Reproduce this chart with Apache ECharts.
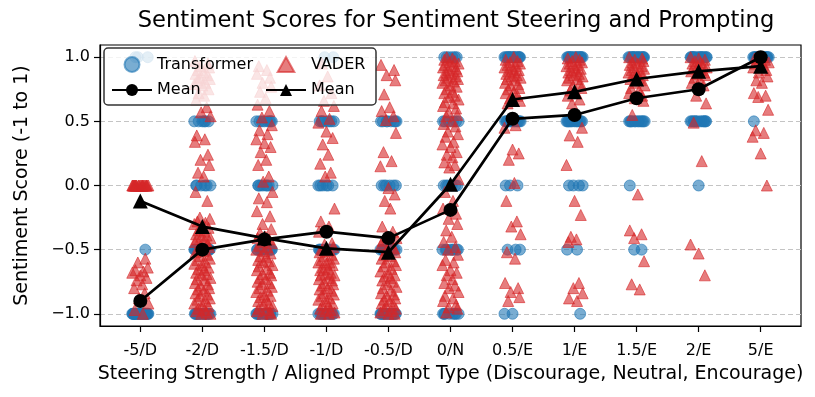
<!DOCTYPE html>
<html>
<head>
<meta charset="utf-8">
<script src="https://cdn.jsdelivr.net/npm/echarts@6/dist/echarts.min.js"></script>
<style>html,body{margin:0;padding:0;background:#fff;}#c{width:815px;height:397px;}</style>
</head>
<body>
<div id="c"></div>
<script>
// ---------------- DATA ----------------
const categories = ['-5/D', '-2/D', '-1.5/D', '-1/D', '-0.5/D', '0/N', '0.5/E', '1/E', '1.5/E', '2/E', '5/E'];
const yTicks = [-1, -0.5, 0, 0.5, 1];

// Transformer scores are discrete: [score, count] per category
const tf_m5D  = [[-1, 25], [-0.5, 1], [1, 3]];
const tf_m2D  = [[0.5, 6], [0, 6], [-0.5, 15], [-1, 15]];
const tf_m15D = [[0.5, 8], [0, 8], [-0.5, 10], [-1, 15]];
const tf_m1D  = [[1, 2], [0.5, 8], [0, 6], [-0.5, 12], [-1, 12]];
const tf_m05D = [[0.5, 8], [0, 6], [-0.5, 12], [-1, 15]];
const tf_0N   = [[1, 6], [0.5, 6], [0, 6], [-0.5, 8], [-1, 8]];
const tf_05E  = [[1, 15], [0.5, 12], [0, 3], [-0.5, 3], [-1, 2]];
const tf_1E   = [[1, 15], [0.5, 12], [0, 4], [-0.5, 2], [-1, 1]];
const tf_15E  = [[1, 15], [0.5, 12], [0, 1], [-0.5, 2]];
const tf_2E   = [[1, 15], [0.5, 12], [0, 1]];
const tf_5E   = [[1, 15], [0.5, 1]];
const transformerScores = [tf_m5D, tf_m2D, tf_m15D, tf_m1D, tf_m05D, tf_0N, tf_05E, tf_1E, tf_15E, tf_2E, tf_5E];

// VADER compound scores
const vd_m5D = [0, 0, 0, 0, 0, 0, 0, 0, 0, 0, 0, 0, 0, 0, 0, 0, 0, 0, 0, 0,
  -0.57, -0.6, -0.64, -0.66, -0.67, -0.68, -0.7, -0.72, -0.74, -0.77, -0.8, -0.84, -0.88, -0.92, -0.97, -1.0];
const vd_m2D = [0.97, 0.95, 0.93, 0.92, 0.9, 0.88, 0.87, 0.86, 0.84, 0.83, 0.82, 0.8, 0.79, 0.78, 0.75, 0.72, 0.7,
  0.67, 0.61, 0.57, 0.54, 0.39, 0.36, 0.34, 0.24, 0.2, 0.16, 0.1, 0.07, -0.05, -0.12, -0.25, -0.26, -0.28, -0.29,
  -0.3, -0.32, -0.33, -0.35, -0.36, -0.38, -0.39, -0.4, -0.41, -0.42, -0.43, -0.44, -0.46, -0.47, -0.48, -0.5,
  -0.51, -0.52, -0.54, -0.55, -0.57, -0.58, -0.6, -0.61, -0.62, -0.64, -0.65, -0.66, -0.68, -0.69, -0.7, -0.72,
  -0.73, -0.74, -0.76, -0.77, -0.78, -0.8, -0.81, -0.82, -0.84, -0.85, -0.86, -0.88, -0.89, -0.9, -0.92, -0.93,
  -0.94, -0.96, -0.97, -0.98, -0.99, -1.0, -1.0];
const vd_m15D = [0.93, 0.9, 0.87, 0.84, 0.8, 0.77, 0.73, 0.68, 0.63, 0.58, 0.53, 0.47, 0.43, 0.4, 0.36, 0.33, 0.3,
  0.26, 0.2, 0.16, 0.07, 0.03, -0.05, -0.1, -0.13, -0.2, -0.24, -0.3, -0.34, -0.37, -0.4, -0.41, -0.42, -0.44,
  -0.45, -0.47, -0.48, -0.5, -0.51, -0.53, -0.55, -0.56, -0.58, -0.59, -0.6, -0.62, -0.63, -0.65, -0.66, -0.68,
  -0.69, -0.7, -0.72, -0.73, -0.75, -0.76, -0.77, -0.79, -0.8, -0.82, -0.83, -0.85, -0.86, -0.87, -0.89, -0.9,
  -0.92, -0.93, -0.94, -0.96, -0.97, -0.98, -0.99, -1.0, -1.0];
const vd_m1D = [0.95, 0.85, 0.78, 0.72, 0.66, 0.62, 0.58, 0.52, 0.49, 0.42, 0.37, 0.32, 0.24, 0.17, 0.1, 0.07, -0.18,
  -0.28, -0.32, -0.36, -0.45, -0.46, -0.48, -0.5, -0.51, -0.52, -0.54, -0.55, -0.57, -0.58, -0.6, -0.6, -0.61,
  -0.62, -0.64, -0.65, -0.66, -0.68, -0.69, -0.7, -0.7, -0.72, -0.73, -0.74, -0.76, -0.77, -0.78, -0.8, -0.81,
  -0.82, -0.84, -0.85, -0.86, -0.88, -0.89, -0.9, -0.92, -0.93, -0.94, -0.96, -0.97, -0.98, -0.99, -1.0, -1.0];
const vd_m05D = [0.94, 0.9, 0.86, 0.82, 0.71, 0.61, 0.58, 0.54, 0.51, 0.41, 0.26, 0.19, 0.15, -0.02, -0.07, -0.12,
  -0.18, -0.32, -0.36, -0.4, -0.41, -0.43, -0.45, -0.46, -0.49, -0.5, -0.52, -0.54, -0.55, -0.57, -0.59, -0.6,
  -0.62, -0.63, -0.65, -0.67, -0.68, -0.7, -0.71, -0.72, -0.74, -0.75, -0.77, -0.79, -0.8, -0.82, -0.84, -0.85,
  -0.86, -0.88, -0.89, -0.9, -0.92, -0.93, -0.94, -0.96, -0.97, -0.98, -0.99, -1.0, -1.0];
const vd_0N = [1.0, 0.99, 0.98, 0.97, 0.96, 0.95, 0.94, 0.93, 0.92, 0.91, 0.9, 0.89, 0.88, 0.87, 0.86, 0.85, 0.84,
  0.83, 0.82, 0.81, 0.8, 0.78, 0.77, 0.75, 0.73, 0.72, 0.7, 0.69, 0.67, 0.65, 0.64, 0.62, 0.6, 0.57, 0.55, 0.54,
  0.5, 0.48, 0.46, 0.42, 0.4, 0.38, 0.34, 0.32, 0.3, 0.26, 0.24, 0.22, 0.18, 0.16, 0.14, 0.05, -0.05, -0.12, -0.18,
  -0.22, -0.26, -0.3, -0.35, -0.4, -0.44, -0.48, -0.5, -0.54, -0.58, -0.6, -0.62, -0.66, -0.68, -0.7, -0.73,
  -0.76, -0.78, -0.8, -0.83, -0.86, -0.88, -0.9, -0.93, -0.95, -0.96, -0.99];
const vd_05E = [1.0, 0.98, 0.97, 0.96, 0.95, 0.94, 0.93, 0.92, 0.91, 0.9, 0.89, 0.88, 0.87, 0.86, 0.85, 0.84, 0.83,
  0.82, 0.8, 0.79, 0.78, 0.76, 0.75, 0.73, 0.72, 0.7, 0.68, 0.66, 0.64, 0.47, 0.45, 0.28, 0.25, 0.2, 0.02, -0.12,
  -0.28, -0.32, -0.38, -0.52, -0.57, -0.76, -0.8, -0.83, -0.87, -0.9];
const vd_1E = [1.0, 0.99, 0.98, 0.97, 0.96, 0.95, 0.94, 0.93, 0.92, 0.91, 0.9, 0.89, 0.88, 0.87, 0.86, 0.85, 0.84,
  0.83, 0.82, 0.8, 0.78, 0.76, 0.74, 0.72, 0.7, 0.67, 0.64, 0.45, 0.39, 0.34, 0.16, -0.12, -0.23, -0.4, -0.42, -0.44,
  -0.76, -0.8, -0.84, -0.88, -0.9];
const vd_15E = [1.0, 0.99, 0.98, 0.97, 0.96, 0.95, 0.94, 0.93, 0.92, 0.91, 0.9, 0.89, 0.88, 0.87, 0.86, 0.85, 0.84,
  0.83, 0.82, 0.8, 0.78, 0.76, 0.74, 0.72, 0.7, 0.68, 0.66, 0.55, -0.07, -0.35, -0.38, -0.41, -0.59, -0.77, -0.81];
const vd_2E = [1.0, 0.99, 0.98, 0.97, 0.96, 0.95, 0.94, 0.93, 0.92, 0.91, 0.9, 0.89, 0.88, 0.87, 0.86, 0.84, 0.82,
  0.8, 0.78, 0.7, 0.64, 0.49, 0.19, -0.46, -0.53, -0.7];
const vd_5E = [1.0, 1.0, 0.99, 0.98, 0.97, 0.96, 0.95, 0.94, 0.92, 0.9, 0.88, 0.85, 0.82, 0.8, 0.72, 0.7, 0.69, 0.59,
  0.43, 0.41, 0.38, 0.25, 0.0];
const vaderScores = [vd_m5D, vd_m2D, vd_m15D, vd_m1D, vd_m05D, vd_0N, vd_05E, vd_1E, vd_15E, vd_2E, vd_5E];

const transformerMean = [-0.90, -0.50, -0.42, -0.36, -0.41, -0.19, 0.52, 0.55, 0.68, 0.75, 1.00];
const vaderMean       = [-0.12, -0.32, -0.41, -0.49, -0.52, 0.01, 0.67, 0.73, 0.83, 0.89, 0.93];

// strip-plot horizontal jitter (category units)
const jitterOffsets = [0.02, -0.11, 0.08, -0.04, 0.12, -0.08, 0.05, -0.13, 0.0, 0.1, -0.06, 0.03, -0.1, 0.07,
  -0.02, 0.13, -0.09, 0.04, -0.12, 0.09, -0.03, 0.11, -0.07];

// ---------------- BUILD ----------------
let jc = 0;
function nextJitter() { const v = jitterOffsets[jc % jitterOffsets.length]; jc++; return v; }
const tfPoints = [];
transformerScores.forEach((pairs, ci) => {
  pairs.forEach(([v, n]) => { for (let k = 0; k < n; k++) tfPoints.push([ci + nextJitter(), v]); });
});
jc = 5;
const vdPoints = [];
vaderScores.forEach((arr, ci) => { arr.forEach(v => vdPoints.push([ci + nextJitter(), v])); });

const catIdx = categories.map((c, i) => i);
const FONT = 'DejaVu Sans';
const BLUE = '#1f77b4', RED = '#d62728';
const fmtY = v => (v < 0 ? '\u2212' : '') + Math.abs(v).toFixed(1);
const TRI = 'path://M0,-1L1,0.8L-1,0.8Z';

const chart = echarts.init(document.getElementById('c'), null, { renderer: 'canvas' });
chart.setOption({
  animation: false,
  backgroundColor: '#fff',
  textStyle: { fontFamily: FONT },
  title: {
    text: 'Sentiment Scores for Sentiment Steering and Prompting',
    left: 451, top: 5, textAlign: 'center',
    textStyle: { fontFamily: FONT, fontSize: 22.6, fontWeight: 'normal', color: '#000' }
  },
  grid: { left: 100, top: 45, width: 701, height: 281, show: true, borderColor: '#000', borderWidth: 1.2, containLabel: false },
  xAxis: {
    type: 'value', min: -0.65, max: 10.65,
    name: 'Steering Strength / Aligned Prompt Type (Discourage, Neutral, Encourage)',
    nameLocation: 'middle', nameGap: 39,
    nameTextStyle: { fontFamily: FONT, fontSize: 19, color: '#000' },
    axisLine: { show: true, onZero: false, lineStyle: { color: '#000', width: 1.2 } },
    axisTick: { show: true, customValues: catIdx, length: 6, lineStyle: { color: '#000', width: 1.2 } },
    axisLabel: { customValues: catIdx, formatter: v => categories[Math.round(v)], margin: 17,
      fontFamily: FONT, fontSize: 16, color: '#000' },
    splitLine: { show: false }
  },
  yAxis: {
    type: 'value', min: -1.095, max: 1.095,
    name: 'Sentiment Score (-1 to 1)', nameLocation: 'middle', nameGap: 68, nameRotate: 90,
    nameTextStyle: { fontFamily: FONT, fontSize: 19, color: '#000' },
    axisLine: { show: true, onZero: false, lineStyle: { color: '#000', width: 1.2 } },
    axisTick: { show: true, customValues: yTicks, length: 6, lineStyle: { color: '#000', width: 1.2 } },
    axisLabel: { customValues: yTicks, formatter: fmtY, margin: 10, fontFamily: FONT, fontSize: 16, color: '#000' },
    splitLine: { show: true, lineStyle: { color: '#c4c4c4', type: [5, 3], width: 1 } }
  },
  legend: [
    { show: true, orient: 'vertical', left: 106, top: 51, itemGap: 9, itemWidth: 40, itemHeight: 15,
      selectedMode: false, z: 10,
      data: ['Transformer', 'Mean'],
      textStyle: { fontFamily: FONT, fontSize: 16, color: '#000' } },
    { show: true, orient: 'vertical', left: 260, top: 51, itemGap: 9, itemWidth: 40, itemHeight: 15,
      selectedMode: false, z: 10, symbolKeepAspect: true,
      data: [{ name: 'VADER', icon: TRI }, 'Mean '],
      textStyle: { fontFamily: FONT, fontSize: 16, color: '#000' } }
  ],
  graphic: [{
    type: 'rect', z: 8, shape: { x: 104, y: 48, width: 272, height: 57, r: 4 },
    style: { fill: 'rgba(255,255,255,0.8)', stroke: '#333', lineWidth: 1.5 }
  }],
  series: [
    { name: 'Transformer', type: 'scatter', data: tfPoints, symbol: 'circle', symbolSize: 11, z: 2,
      itemStyle: { color: BLUE, opacity: 0.6, borderColor: BLUE, borderWidth: 1 } },
    { name: 'VADER', type: 'scatter', data: vdPoints, symbol: 'triangle', symbolSize: 11, z: 3,
      itemStyle: { color: RED, opacity: 0.6, borderColor: RED, borderWidth: 1 } },
    { name: 'Mean', type: 'line', data: transformerMean.map((v, i) => [i, v]), symbol: 'circle', symbolSize: 14, z: 5,
      lineStyle: { color: '#000', width: 2.7 }, itemStyle: { color: '#000' } },
    { name: 'Mean ', type: 'line', data: vaderMean.map((v, i) => [i, v]), symbol: 'triangle', symbolSize: 15, z: 5,
      lineStyle: { color: '#000', width: 2.7 }, itemStyle: { color: '#000' } }
  ]
});
</script>
</body>
</html>
